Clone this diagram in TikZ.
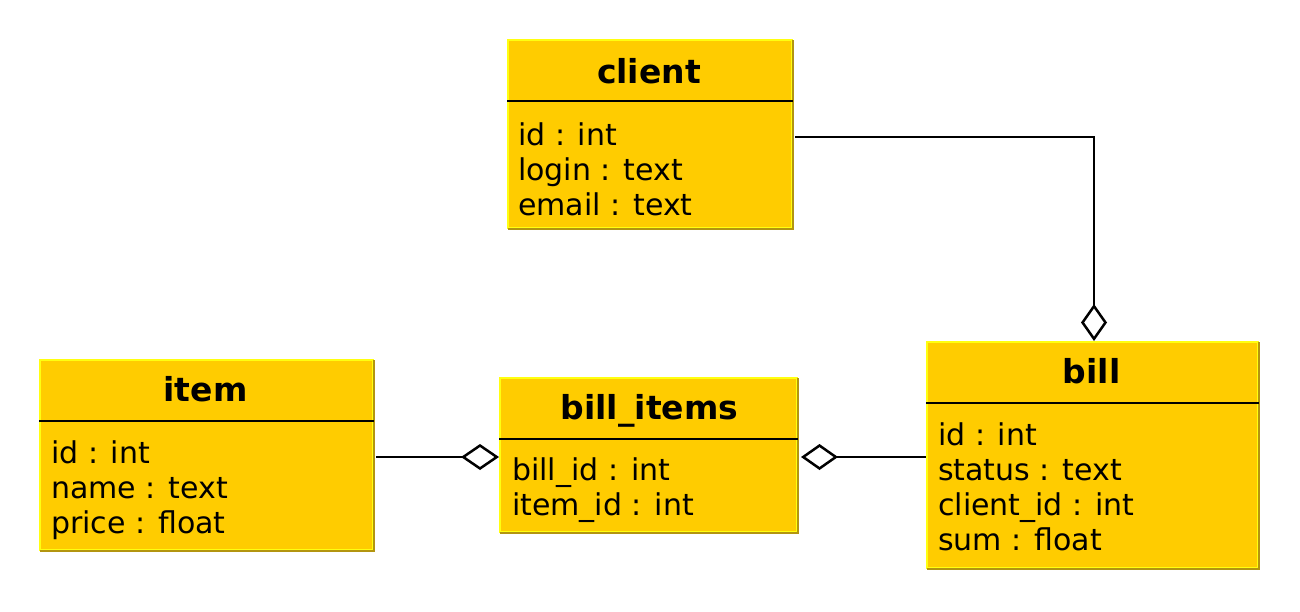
\documentclass[tikz,border=0pt]{standalone}
\usepackage{fontspec}
\setmainfont{DejaVu Sans}
\usetikzlibrary{arrows.meta}
\definecolor{boxfill}{HTML}{FFCC00}
\definecolor{boxlight}{HTML}{FFFF10}
\definecolor{boxdark}{HTML}{B39510}
\tikzset{
  entity/.style={rectangle, fill=boxfill, draw=boxlight, line width=2pt, inner sep=0pt, anchor=north west},
  etitle/.style={anchor=base, inner sep=0pt, font=\fontsize{33}{38}\selectfont\bfseries},
  eattr/.style={anchor=base west, inner sep=0pt, font=\fontsize{30}{35}\selectfont},
  sep/.style={line width=2.5pt, black},
  shade/.style={line width=2pt, boxdark},
  link/.style={line width=2.5pt, black}
}
\begin{document}
\begin{tikzpicture}[x=1pt,y=-1pt]
\useasboundingbox (0,0) rectangle (1300,611);

% client
\node[entity, minimum width=284pt, minimum height=188pt] (client) at (507,39) {};
\draw[shade] ([yshift=-1pt]client.north east) -- (client.south east) -- ([xshift=1pt]client.south west);
\node[etitle] (clientT) at (649,83) {client};
\draw[sep] (client.west |- 0,101) -- (client.east |- 0,101);
\node[eattr] (client1) at (518,145) {id : int};
\node[eattr] (client2) at (518,180) {login : text};
\node[eattr] (client3) at (518,215) {email : text};

% item
\node[entity, minimum width=333pt, minimum height=190pt] (item) at (39,359) {};
\draw[shade] ([yshift=-1pt]item.north east) -- (item.south east) -- ([xshift=1pt]item.south west);
\node[etitle] (itemT) at (205.5,401) {item};
\draw[sep] (item.west |- 0,421) -- (item.east |- 0,421);
\node[eattr] (item1) at (51,463) {id : int};
\node[eattr] (item2) at (51,498) {name : text};
\node[eattr] (item3) at (51,533) {price : float};

% bill_items
\node[entity, minimum width=297pt, minimum height=154pt] (billitems) at (499,377) {};
\draw[shade] ([yshift=-1pt]billitems.north east) -- (billitems.south east) -- ([xshift=1pt]billitems.south west);
\node[etitle] (billitemsT) at (649.5,419) {bill\_items};
\draw[sep] (billitems.west |- 0,439) -- (billitems.east |- 0,439);
\node[eattr] (billitems1) at (512,480) {bill\_id : int};
\node[eattr] (billitems2) at (512,515) {item\_id : int};

% bill
\node[entity, minimum width=331pt, minimum height=226pt] (bill) at (926,341) {};
\draw[shade] ([yshift=-1pt]bill.north east) -- (bill.south east) -- ([xshift=1pt]bill.south west);
\node[etitle] (billT) at (1091.5,383) {bill};
\draw[sep] (bill.west |- 0,403) -- (bill.east |- 0,403);
\node[eattr] (bill1) at (938,445) {id : int};
\node[eattr] (bill2) at (938,480) {status : text};
\node[eattr] (bill3) at (938,515) {client\_id : int};
\node[eattr] (bill4) at (938,550) {sum : float};

% connectors
\coordinate (cstart) at ([xshift=2pt,yshift=-3pt]client.east);
\coordinate (billtop) at ([xshift=1.5pt]bill.north);
\draw[link, -{Diamond[open, length=37pt, width=26pt]}] (cstart) -| (billtop);
\draw[link, -{Diamond[open, length=38pt, width=26pt]}] ([xshift=2pt,yshift=-2pt]item.east) -- ([yshift=-2pt]billitems.west);
\draw[link, {Diamond[open, length=37pt, width=26pt]}-] ([xshift=3pt,yshift=-2pt]billitems.east) -- ([yshift=-2pt]bill.west);
\end{tikzpicture}
\end{document}
